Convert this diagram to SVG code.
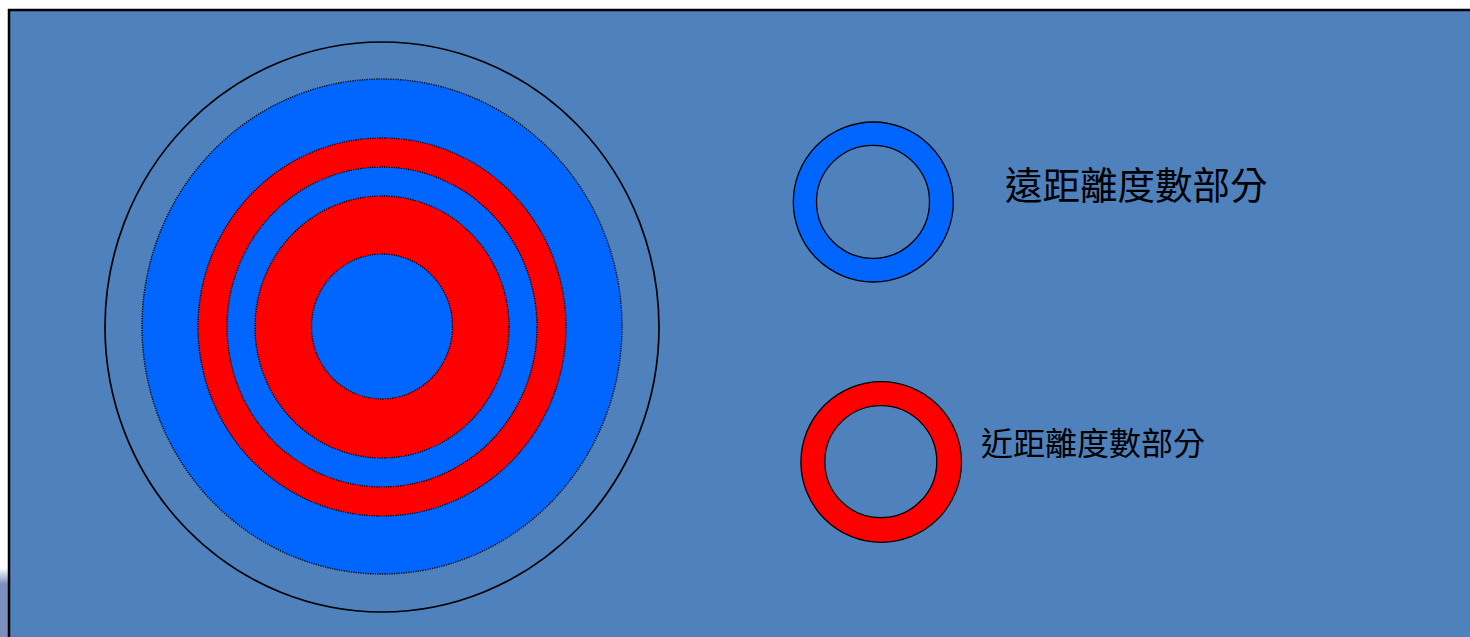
<svg xmlns="http://www.w3.org/2000/svg" width="1470" height="637" viewBox="0 0 1470 637">
  <defs>
    <linearGradient id="edge" x1="0" y1="0" x2="0" y2="1">
      <stop offset="0" stop-color="#ffffff"/>
      <stop offset="1" stop-color="#7b8fbf"/>
    </linearGradient>
    <style>
      .dot { stroke: #000; stroke-width: 1.4; stroke-dasharray: 1.2 1.2; }
      .solid { stroke: #000; stroke-width: 1.3; }
      .far { fill: #0066FF; }
      .near { fill: #FF0000; }
      .bg { fill: #4F81BD; }
      .label { font-family: "Noto Sans CJK TC", "Noto Sans CJK SC", sans-serif; fill: #000; }
    </style>
  </defs>

  <!-- page / slide background -->
  <rect x="0" y="0" width="1470" height="637" fill="#ffffff"/>
  <rect x="0" y="568" width="9" height="16" fill="url(#edge)"/>
  <rect x="0" y="584" width="9" height="53" fill="#7b8fbf"/>
  <rect x="9" y="10" width="1461" height="627" class="bg"/>
  <line x1="8" y1="10" x2="1470" y2="10" stroke="#000" stroke-width="2.5"/>
  <line x1="9" y1="9" x2="9" y2="637" stroke="#000" stroke-width="2.5"/>

  <!-- concentric lens zones -->
  <g id="lens">
    <ellipse cx="382" cy="327" rx="277" ry="285" fill="none" stroke="#000" stroke-width="1.7"/>
    <ellipse cx="382" cy="326.5" rx="240" ry="247.5" class="far dot"/>
    <ellipse cx="382" cy="327" rx="184" ry="189" class="near dot"/>
    <ellipse cx="382" cy="327" rx="155" ry="160" class="far dot"/>
    <ellipse cx="382" cy="327" rx="127" ry="131" class="near dot"/>
    <ellipse cx="382" cy="326.5" rx="70.5" ry="72.5" class="far dot"/>
  </g>

  <!-- legend: far -->
  <g id="legend-far">
    <circle cx="873.3" cy="202" r="80" class="far solid"/>
    <circle cx="873" cy="201.8" r="56.5" class="bg solid"/>
    <text x="1005" y="199" font-size="37.5" class="label">遠距離度數部分</text>
  </g>

  <!-- legend: near -->
  <g id="legend-near">
    <circle cx="881.2" cy="462" r="80.3" class="near solid"/>
    <circle cx="880.8" cy="461.7" r="56" class="bg solid"/>
    <text x="981" y="454.5" font-size="32" class="label">近距離度數部分</text>
  </g>
</svg>
